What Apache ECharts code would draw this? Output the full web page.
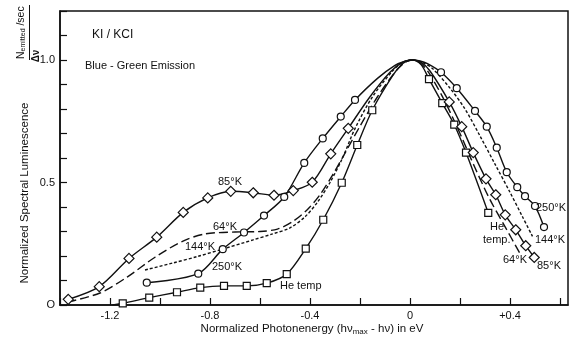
<!DOCTYPE html>
<html><head><meta charset="utf-8">
<script src="https://cdn.jsdelivr.net/npm/echarts@6/dist/echarts.min.js"></script>
<style>html,body{margin:0;padding:0;background:#fff}#c{width:573px;height:337px}</style>
</head><body><div id="c"></div>
<script>
// ---- data ----
const xTickValues = [-1.2, -0.8, -0.4, 0, 0.4];
const xTickLabels = ['-1.2', '-0.8', '-0.4', '0', '+0.4'];
const yTickValues = [0, 0.5, 1.0];
const yTickLabels = ['O', '0.5', '1.0'];

// 250 K (circles)
const k250X = [-1.053,-0.847,-0.749,-0.664,-0.584,-0.503,-0.423,-0.349,-0.277,-0.22,-0.13,-0.06,-0.02,0.01,0.04,0.07,0.124,0.187,0.26,0.307,0.347,0.387,0.429,0.46,0.5,0.536];
const k250Y = [0.091,0.128,0.228,0.296,0.365,0.441,0.58,0.68,0.769,0.837,0.925,0.978,0.995,1.0,0.996,0.985,0.95,0.885,0.792,0.728,0.642,0.542,0.481,0.444,0.404,0.318];
const k250M = [1,1,1,1,1,1,1,1,1,1,0,0,0,0,0,0,1,1,1,1,1,1,1,1,1,1];

// 85 K (diamonds)
const k85X = [-1.367,-1.243,-1.124,-1.013,-0.907,-0.809,-0.717,-0.627,-0.544,-0.467,-0.391,-0.317,-0.247,-0.16,-0.08,-0.03,0.01,0.045,0.08,0.157,0.207,0.253,0.304,0.343,0.381,0.423,0.463,0.497];
const k85Y = [0.023,0.075,0.19,0.277,0.378,0.437,0.464,0.458,0.448,0.467,0.501,0.617,0.721,0.85,0.95,0.99,1.0,0.99,0.955,0.829,0.728,0.622,0.515,0.45,0.368,0.307,0.242,0.194];
const k85M = [1,1,1,1,1,1,1,1,1,1,1,1,1,0,0,0,0,0,0,1,1,1,1,1,1,1,1,1];

// He temperature (squares)
const heX = [-1.19,-1.149,-1.043,-0.932,-0.839,-0.744,-0.653,-0.573,-0.493,-0.417,-0.347,-0.273,-0.211,-0.151,-0.07,-0.03,0.01,0.045,0.076,0.129,0.177,0.224,0.313];
const heY = [0.0,0.007,0.03,0.052,0.071,0.078,0.078,0.089,0.126,0.23,0.348,0.499,0.653,0.795,0.935,0.985,1.0,0.98,0.922,0.824,0.736,0.622,0.376];
const heM = [0,1,1,1,1,1,1,1,1,1,1,1,1,1,0,0,0,0,1,1,1,1,1];

// 64 K (long dash, no markers)
const k64X = [-1.37,-1.24,-1.13,-1.02,-0.91,-0.82,-0.7,-0.6,-0.53,-0.47,-0.41,-0.36,-0.31,-0.26,-0.2,-0.13,-0.06,-0.02,0.01,0.045,0.08,0.14,0.2,0.26,0.32,0.38,0.44];
const k64Y = [0.012,0.049,0.115,0.195,0.26,0.29,0.298,0.3,0.31,0.34,0.39,0.45,0.53,0.62,0.73,0.85,0.95,0.99,1.0,0.985,0.94,0.83,0.7,0.56,0.43,0.32,0.21];

// 144 K (short dash, no markers)
const k144X = [-1.06,-0.95,-0.85,-0.75,-0.63,-0.55,-0.48,-0.42,-0.37,-0.32,-0.27,-0.22,-0.15,-0.07,-0.03,0.01,0.05,0.09,0.16,0.22,0.28,0.34,0.4,0.45,0.49];
const k144Y = [0.143,0.171,0.198,0.228,0.265,0.29,0.315,0.36,0.42,0.5,0.6,0.72,0.85,0.955,0.99,1.0,0.99,0.965,0.885,0.8,0.69,0.575,0.46,0.36,0.28];

// annotations (text, x, y in data units)
const noteText = ['85°K','64°K','144°K','250°K','He temp','250°K','He','temp.','144°K','64°K','85°K'];
const noteX    = [-0.768,-0.788,-0.9,-0.792,-0.52,0.504,0.32,0.292,0.5,0.372,0.508];
const noteY    = [0.504,0.32,0.238,0.156,0.078,0.398,0.32,0.266,0.266,0.184,0.16];
const titleText = ['KI / KCI', 'Blue - Green Emission'];
const titleX = [-1.272, -1.3];
const titleY = [1.102, 0.975];

// ---- chart ----
const INK = '#111';
const FONT = 'Liberation Sans';
function build(xs, ys, ms) {
  return xs.map((x, i) => {
    const d = { value: [x, ys[i]] };
    if (ms && !ms[i]) d.symbol = 'none';
    return d;
  });
}
function fmt(vals, labs) {
  return v => { for (let i = 0; i < vals.length; i++) if (Math.abs(v - vals[i]) < 1e-6) return labs[i]; return ''; };
}
const markerStyle = { color: '#fff', borderColor: INK, borderWidth: 1.2 };
function lineSeries(name, data, symbol, size, dash) {
  return {
    name, type: 'line', data, smooth: 0.3,
    symbol: symbol || 'none', symbolSize: size || 0, showSymbol: !!symbol,
    lineStyle: { color: INK, width: 1.4, type: dash || 'solid' },
    itemStyle: markerStyle, animation: false, z: symbol ? 3 : 2
  };
}
const chart = echarts.init(document.getElementById('c'), null, { renderer: 'canvas' });
chart.setOption({
  backgroundColor: '#fff',
  animation: false,
  textStyle: { fontFamily: FONT },
  grid: { left: 60, right: 5, top: 11, bottom: 32, show: true, borderColor: INK, borderWidth: 1.5 },
  xAxis: {
    type: 'value', min: -1.4, max: 0.632, interval: 0.2,
    axisLine: { onZero: false, lineStyle: { color: INK, width: 1.5 } },
    axisTick: { inside: true, length: 7, lineStyle: { color: INK, width: 1.2 } },
    axisLabel: { formatter: fmt(xTickValues, xTickLabels), color: INK, fontSize: 11, margin: 5, fontFamily: FONT, showMaxLabel: false },
    splitLine: { show: false }
  },
  yAxis: {
    type: 'value', min: 0, max: 1.2, interval: 0.1,
    axisLine: { onZero: false, lineStyle: { color: INK, width: 1.5 } },
    axisTick: { inside: true, length: 7, lineStyle: { color: INK, width: 1.2 } },
    axisLabel: { formatter: fmt(yTickValues, yTickLabels), color: INK, fontSize: 11, margin: 5, fontFamily: FONT },
    splitLine: { show: false }
  },
  series: [
    lineSeries('64K', build(k64X, k64Y), null, 0, [9, 4]),
    lineSeries('144K', build(k144X, k144Y), null, 0, [3, 2]),
    lineSeries('He', build(heX, heY, heM), 'rect', 7),
    lineSeries('85K', build(k85X, k85Y, k85M), 'diamond', 10),
    lineSeries('250K', build(k250X, k250Y, k250M), 'circle', 7)
  ]
});

const px = (x, y) => chart.convertToPixel({ gridIndex: 0 }, [x, y]);
const g = [];
noteText.forEach((t, i) => {
  const p = px(noteX[i], noteY[i]);
  g.push({ type: 'text', x: p[0], y: p[1], style: { text: t, fill: INK, font: '11px ' + FONT, textVerticalAlign: 'middle', textAlign: 'left' }, z: 10 });
});
titleText.forEach((t, i) => {
  const p = px(titleX[i], titleY[i]);
  g.push({ type: 'text', x: p[0], y: p[1], style: { text: t, fill: INK, font: (i === 0 ? '12px ' : '11px ') + FONT, textVerticalAlign: 'middle', textAlign: 'left' }, z: 10 });
});
// x axis title
g.push({ type: 'text', x: 312, y: 329, style: {
  text: 'Normalized Photonenergy (hν{sub|max} - hν) in eV',
  fill: INK, fontSize: 11.5, fontFamily: FONT, textAlign: 'center', textVerticalAlign: 'middle',
  rich: { sub: { fontSize: 8, fontFamily: FONT, fill: INK, verticalAlign: 'bottom', padding: [6, 0, 0, 0] } }
}});
// y axis title
g.push({ type: 'text', x: 25, y: 193, rotation: Math.PI / 2, style: {
  text: 'Normalized Spectral Luminescence', fill: INK, fontSize: 11.5, fontFamily: FONT, textAlign: 'center', textVerticalAlign: 'middle'
}});
g.push({ type: 'text', x: 21, y: 59, rotation: Math.PI / 2, style: {
  text: 'N{sub|emitted} /sec', fill: INK, fontSize: 10.5, fontFamily: FONT, textAlign: 'left', textVerticalAlign: 'middle',
  rich: { sub: { fontSize: 7, fontFamily: FONT, fill: INK, verticalAlign: 'bottom', padding: [5, 0, 0, 0] } }
}});
g.push({ type: 'line', shape: { x1: 29.5, y1: 5, x2: 29.5, y2: 60 }, style: { stroke: INK, lineWidth: 1 } });
g.push({ type: 'text', x: 36.5, y: 56, rotation: Math.PI / 2, style: {
  text: 'Δν', fill: INK, fontSize: 10, fontFamily: FONT, fontWeight: 'bold', textAlign: 'center', textVerticalAlign: 'middle'
}});
chart.setOption({ graphic: g });
</script>
</body></html>
